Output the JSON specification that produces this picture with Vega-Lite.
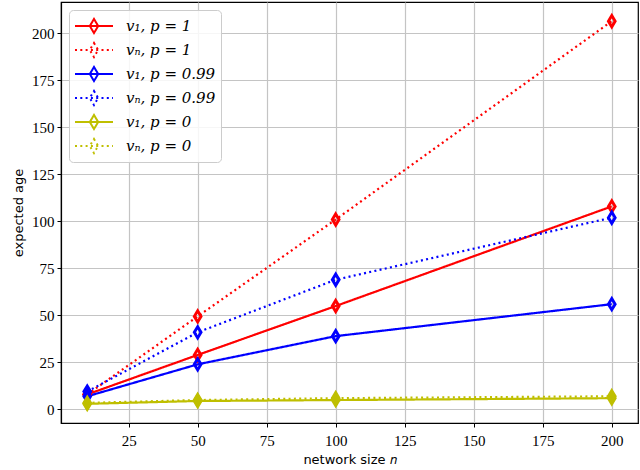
{
  "$schema": "https://vega.github.io/schema/vega-lite/v6.json",
  "width": 577,
  "height": 421,
  "autosize": {"type": "none"},
  "padding": {"left": 61, "top": 2, "right": 2, "bottom": 47},
  "background": "white",
  "config": {
    "view": {"stroke": "black", "strokeWidth": 1.2},
    "axis": {
      "grid": true,
      "gridColor": "#c4c4c4",
      "gridWidth": 1.2,
      "domainColor": "black",
      "domainWidth": 1.2,
      "tickColor": "black",
      "tickSize": 4,
      "tickWidth": 1,
      "labelFont": "Liberation Serif",
      "labelFontSize": 15,
      "labelColor": "black",
      "titleFont": "DejaVu Sans",
      "titleFontSize": 13,
      "titleFontWeight": "normal",
      "titleColor": "black"
    }
  },
  "data": {
    "values": [
      {"n": 10, "age": 8, "p": "1", "series": "v₁, p = 1"},
      {"n": 50, "age": 29, "p": "1", "series": "v₁, p = 1"},
      {"n": 100, "age": 55, "p": "1", "series": "v₁, p = 1"},
      {"n": 200, "age": 108, "p": "1", "series": "v₁, p = 1"},
      {"n": 10, "age": 8, "p": "1", "series": "vₙ, p = 1"},
      {"n": 50, "age": 49.5, "p": "1", "series": "vₙ, p = 1"},
      {"n": 100, "age": 101, "p": "1", "series": "vₙ, p = 1"},
      {"n": 200, "age": 206.5, "p": "1", "series": "vₙ, p = 1"},
      {"n": 10, "age": 7, "p": "0.99", "series": "v₁, p = 0.99"},
      {"n": 50, "age": 24, "p": "0.99", "series": "v₁, p = 0.99"},
      {"n": 100, "age": 39, "p": "0.99", "series": "v₁, p = 0.99"},
      {"n": 200, "age": 56, "p": "0.99", "series": "v₁, p = 0.99"},
      {"n": 10, "age": 9.5, "p": "0.99", "series": "vₙ, p = 0.99"},
      {"n": 50, "age": 41, "p": "0.99", "series": "vₙ, p = 0.99"},
      {"n": 100, "age": 69, "p": "0.99", "series": "vₙ, p = 0.99"},
      {"n": 200, "age": 102, "p": "0.99", "series": "vₙ, p = 0.99"},
      {"n": 10, "age": 3, "p": "0", "series": "v₁, p = 0"},
      {"n": 50, "age": 4.5, "p": "0", "series": "v₁, p = 0"},
      {"n": 100, "age": 5, "p": "0", "series": "v₁, p = 0"},
      {"n": 200, "age": 6, "p": "0", "series": "v₁, p = 0"},
      {"n": 10, "age": 3.5, "p": "0", "series": "vₙ, p = 0"},
      {"n": 50, "age": 5, "p": "0", "series": "vₙ, p = 0"},
      {"n": 100, "age": 6, "p": "0", "series": "vₙ, p = 0"},
      {"n": 200, "age": 7, "p": "0", "series": "vₙ, p = 0"}
    ]
  },
  "encoding": {
    "x": {
      "field": "n",
      "type": "quantitative",
      "title": "network size 𝑛",
      "scale": {"domain": [0.5, 209.5], "nice": false, "zero": false},
      "axis": {"values": [25, 50, 75, 100, 125, 150, 175, 200], "labelPadding": 6, "titlePadding": 5}
    },
    "y": {
      "field": "age",
      "type": "quantitative",
      "title": "expected age",
      "scale": {"domain": [-7.2, 216.7], "nice": false, "zero": false},
      "axis": {"values": [0, 25, 50, 75, 100, 125, 150, 175, 200], "labelPadding": 3, "titlePadding": 6}
    },
    "color": {
      "field": "series",
      "type": "nominal",
      "title": null,
      "scale": {
        "domain": ["v₁, p = 1", "vₙ, p = 1", "v₁, p = 0.99", "vₙ, p = 0.99", "v₁, p = 0", "vₙ, p = 0"],
        "range": ["#ff0000", "#ff0000", "#0000ff", "#0000ff", "#bfbf00", "#bfbf00"]
      },
      "legend": {
        "orient": "top-left",
        "offset": 8,
        "padding": 5,
        "fillColor": "rgba(255,255,255,0.85)",
        "strokeColor": "#cccccc",
        "cornerRadius": 4,
        "symbolType": "M-1,0L1,0M0,-0.37L0.22,0L0,0.37L-0.22,0Z",
        "symbolSize": 1444,
        "symbolStrokeWidth": 2,
        "clipHeight": 22,
        "rowPadding": 2,
        "labelFont": "DejaVu Serif",
        "labelFontStyle": "italic",
        "labelFontSize": 15,
        "labelColor": "black",
        "labelOffset": 12,
        "encode": {"symbols": {"update": {"fill": {"value": "transparent"}}}}
      }
    }
  },
  "layer": [
    {
      "mark": {"type": "line", "strokeWidth": 2.2},
      "encoding": {
        "strokeDash": {
          "field": "series",
          "type": "nominal",
          "title": null,
          "scale": {
            "domain": ["v₁, p = 1", "vₙ, p = 1", "v₁, p = 0.99", "vₙ, p = 0.99", "v₁, p = 0", "vₙ, p = 0"],
            "range": [[1, 0], [2, 3.3], [1, 0], [2, 3.3], [1, 0], [2, 3.3]]
          }
        }
      }
    },
    {
      "mark": {
        "type": "point",
        "filled": false,
        "opacity": 1,
        "strokeWidth": 1.5,
        "size": 196,
        "shape": "M0,-1L0.6,0L0,1L-0.6,0ZM0,-0.6L0.36,0L0,0.6L-0.36,0Z"
      },
      "encoding": {
        "fill": {
          "condition": {"test": "datum.p === '0'", "value": "#bfbf00"},
          "value": "transparent"
        }
      }
    }
  ]
}
